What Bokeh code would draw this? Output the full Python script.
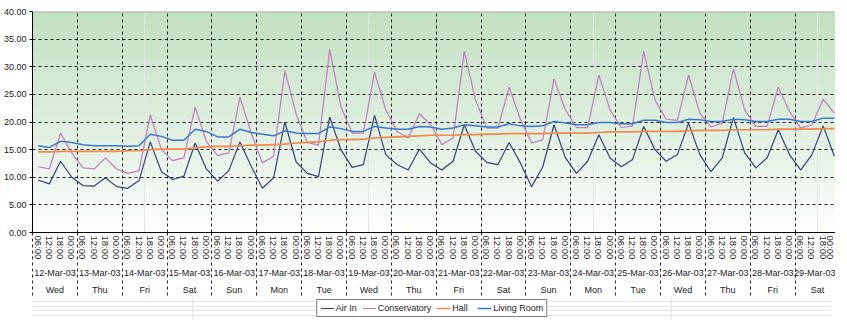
import numpy as np
from bokeh.plotting import figure
from bokeh.layouts import column
from bokeh.models import (LinearAxis, FixedTicker, PrintfTickFormatter, Legend,
                          LegendItem, Span, Range1d, Grid)
from bokeh.embed import file_html
from bokeh.resources import INLINE

# ---------------- data ----------------
dates = ["12-Mar-03", "13-Mar-03", "14-Mar-03", "15-Mar-03", "16-Mar-03", "17-Mar-03",
         "18-Mar-03", "19-Mar-03", "20-Mar-03", "21-Mar-03", "22-Mar-03", "23-Mar-03",
         "24-Mar-03", "25-Mar-03", "26-Mar-03", "27-Mar-03", "28-Mar-03", "29-Mar-03"]
weekdays = ["Wed", "Thu", "Fri", "Sat", "Sun", "Mon", "Tue", "Wed", "Thu", "Fri", "Sat",
            "Sun", "Mon", "Tue", "Wed", "Thu", "Fri", "Sat"]
times = ["06:00", "12:00", "18:00", "00:00"]

air_in = [9.5, 8.8, 12.9, 10.0,
          8.5, 8.4, 9.9, 8.3,
          8.0, 9.4, 16.4, 11.0,
          9.6, 10.2, 16.2, 11.5,
          9.3, 11.2, 16.4, 12.0,
          8.0, 9.9, 20.0, 12.8,
          10.7, 10.1, 20.9, 15.0,
          11.8, 12.3, 21.2, 14.1,
          12.3, 11.3, 15.1, 12.6,
          11.3, 12.9, 19.5, 14.7,
          12.7, 12.3, 16.3, 12.6,
          8.3, 11.9, 19.5, 13.6,
          10.7, 12.9, 17.7, 13.5,
          11.9, 13.2, 19.2, 15.0,
          12.9, 14.1, 19.8, 14.1,
          11.0, 13.5, 20.8, 14.4,
          11.7, 13.5, 18.6, 14.1,
          11.3, 14.1, 19.3, 13.8]

conservatory = [11.9, 11.5, 18.0, 14.4,
                11.7, 11.5, 13.5, 11.5,
                10.7, 11.2, 21.3, 15.0,
                13.0, 13.5, 22.7, 16.5,
                13.9, 14.4, 24.5, 18.0,
                12.6, 13.8, 29.3, 21.5,
                16.3, 15.8, 33.1, 22.8,
                18.0, 18.0, 29.0, 22.2,
                18.3, 17.1, 21.5, 19.5,
                15.9, 17.1, 32.8, 24.0,
                18.9, 18.9, 26.3, 20.5,
                16.2, 16.8, 27.8, 22.3,
                19.0, 19.0, 28.5, 22.2,
                19.0, 19.3, 32.8, 24.0,
                20.5, 20.3, 28.5, 21.6,
                19.1, 19.8, 29.6, 22.2,
                19.2, 19.2, 26.3, 21.9,
                18.9, 19.5, 24.1, 21.6]

hall = [14.6, 14.6, 14.7, 14.7,
        14.7, 14.7, 14.7, 14.7,
        14.8, 14.8, 15.0, 15.1,
        15.1, 15.1, 15.3, 15.5,
        15.6, 15.6, 15.7, 15.8,
        15.8, 15.9, 16.0, 16.2,
        16.3, 16.4, 16.7, 16.8,
        16.8, 16.9, 17.1, 17.2,
        17.3, 17.4, 17.5, 17.6,
        17.6, 17.6, 17.7, 17.7,
        17.8, 17.8, 17.9, 17.9,
        17.9, 17.9, 18.0, 18.0,
        18.0, 18.0, 18.1, 18.2,
        18.2, 18.2, 18.3, 18.3,
        18.3, 18.3, 18.4, 18.5,
        18.5, 18.5, 18.6, 18.6,
        18.6, 18.6, 18.7, 18.7,
        18.7, 18.7, 18.8, 18.8]

living_room = [15.7, 15.4, 16.5, 16.3,
               15.9, 15.7, 15.7, 15.7,
               15.6, 15.7, 17.8, 17.4,
               16.7, 16.7, 18.7, 18.3,
               17.3, 17.3, 18.7, 18.1,
               17.8, 17.5, 18.4, 18.0,
               17.9, 17.9, 19.1, 18.8,
               18.3, 18.3, 19.2, 18.9,
               18.7, 18.7, 19.2, 19.1,
               18.7, 18.9, 19.5, 19.3,
               19.1, 19.1, 19.7, 19.3,
               19.2, 19.3, 20.1, 19.8,
               19.5, 19.5, 19.9, 19.9,
               19.7, 19.7, 20.3, 20.3,
               19.9, 19.9, 20.5, 20.4,
               20.1, 20.1, 20.5, 20.4,
               20.1, 20.1, 20.5, 20.5,
               20.1, 20.1, 20.7, 20.7]

series_names = ["Air In", "Conservatory", "Hall", "Living Room"]
y_ticks = [0, 5, 10, 15, 20, 25, 30, 35, 40]

# ---------------- derived positions ----------------
n = len(air_in)
xs = [i + 0.5 for i in range(n)]
time_labels = [times[i % 4] for i in range(n)]
bounds = [4 * d for d in range(len(dates) + 1)]
day_centers = [4 * d + 2 for d in range(len(dates))]
X_END = 71.6

FONT = "Liberation Sans"
TXT = "#1a1a1a"
COLORS = ["#34427a", "#c47ac4", "#f4884a", "#3b78c9"]
WIDTHS = [1.2, 1.2, 1.7, 1.5]
SERIES = [air_in, conservatory, hall, living_room]

p = figure(frame_width=803, frame_height=221,
           x_range=Range1d(0, X_END), y_range=Range1d(0, 40),
           output_backend="svg", toolbar_location=None,
           x_axis_location=None, y_axis_location="left",
           min_border_left=28, min_border_right=0, min_border_top=11, min_border_bottom=0,
           outline_line_color=None, border_fill_color="white",
           background_fill_color="white")

# gradient background (green at top fading to white)
N = 200
img = np.zeros((N, 1), dtype=np.uint32)
view = img.view(dtype=np.uint8).reshape((N, 1, 4))
top = np.array([194, 225, 194], dtype=float)
for j in range(N):
    t = (j / (N - 1)) ** 0.9
    c = 255 + (top - 255) * t
    view[j, 0, 0] = int(c[0]); view[j, 0, 1] = int(c[1]); view[j, 0, 2] = int(c[2]); view[j, 0, 3] = 255
bg = p.image_rgba(image=[img], x=0, y=0, dw=X_END, dh=40)
bg.level = "image"

# grids
p.ygrid.ticker = FixedTicker(ticks=y_ticks)
p.ygrid.grid_line_color = "black"
p.ygrid.grid_line_dash = "3 3"
p.ygrid.grid_line_alpha = 0.85
p.add_layout(Grid(dimension=0, ticker=FixedTicker(ticks=bounds[1:-1]),
                  grid_line_color="black", grid_line_dash="3 3", grid_line_alpha=0.85))

p.add_layout(Span(location=40, dimension="width", line_color="#b0b0b0", line_width=2))

# y axis
ya = p.yaxis[0]
ya.ticker = FixedTicker(ticks=y_ticks)
ya.formatter = PrintfTickFormatter(format="%.2f")
ya.axis_line_color = "black"
ya.major_tick_line_color = "black"
ya.major_tick_out = 3
ya.major_tick_in = 0
ya.minor_tick_line_color = None
ya.major_label_standoff = 3
ya.major_label_text_font = FONT
ya.major_label_text_font_size = "9px"
ya.major_label_text_color = TXT

# main x axis (times); day separators drawn as minor ticks reaching outward
xa = LinearAxis(ticker=FixedTicker(ticks=xs, minor_ticks=bounds[:-1]),
                major_label_overrides={x: l for x, l in zip(xs, time_labels)},
                major_label_orientation="vertical",
                major_label_text_font=FONT, major_label_text_font_size="9.5px",
                major_label_text_color=TXT, major_label_standoff=3,
                major_tick_line_color=None, major_tick_out=0, major_tick_in=0,
                minor_tick_out=0, minor_tick_in=-68, minor_tick_line_dash="3 3",
                minor_tick_line_color="black", minor_tick_line_alpha=0.85,
                axis_line_color="black")
p.add_layout(xa, "below")

# date axis
da = LinearAxis(ticker=FixedTicker(ticks=day_centers, minor_ticks=[]),
                major_label_overrides={x: l for x, l in zip(day_centers, dates)},
                major_label_text_font=FONT, major_label_text_font_size="9px",
                major_label_text_color=TXT, major_label_standoff=5,
                major_tick_line_color=None, major_tick_out=0, major_tick_in=0,
                minor_tick_line_color=None, axis_line_color=None)
p.add_layout(da, "below")

# weekday axis
wa = LinearAxis(ticker=FixedTicker(ticks=day_centers, minor_ticks=[]),
                major_label_overrides={x: l for x, l in zip(day_centers, weekdays)},
                major_label_text_font=FONT, major_label_text_font_size="9px",
                major_label_text_color=TXT, major_label_standoff=4,
                major_tick_line_color=None, major_tick_out=0, major_tick_in=0,
                minor_tick_line_color=None, axis_line_color=None)
p.add_layout(wa, "below")

for ser, col, w in zip(SERIES, COLORS, WIDTHS):
    p.line(xs, ser, line_color=col, line_width=w)

# ---------------- legend strip (separate small figure) ----------------
q = figure(width=831, height=22, x_range=Range1d(-100, -99), y_range=Range1d(-100, -99),
           output_backend="svg", toolbar_location=None,
           x_axis_location=None, y_axis_location=None,
           min_border_left=28, min_border_right=0, min_border_top=0, min_border_bottom=0,
           outline_line_color=None, border_fill_color="white", background_fill_color="white")
items = []
for name, ser, col, w in zip(series_names, SERIES, COLORS, WIDTHS):
    r = q.line(xs, ser, line_color=col, line_width=w)
    items.append(LegendItem(label=name, renderers=[r]))

legend = Legend(items=items, orientation="horizontal", location="center",
                border_line_color="black", border_line_width=1,
                label_text_font=FONT, label_text_font_size="9px", label_text_color=TXT,
                glyph_width=14, glyph_height=10, label_height=10, label_standoff=2,
                spacing=5, padding=3, margin=0, background_fill_color="white")
q.add_layout(legend, "center")

layout = column(p, q, spacing=0)
open("out.html", "w").write(file_html(layout, INLINE))
